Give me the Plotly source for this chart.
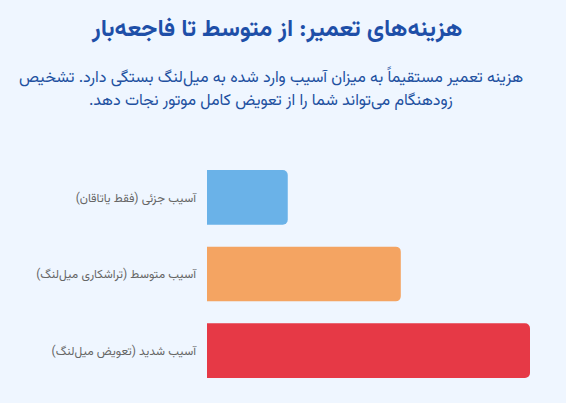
import plotly.graph_objects as go

categories = ["آسیب جزئی (فقط یاتاقان)", "آسیب متوسط (تراشکاری میل‌لنگ)", "آسیب شدید (تعویض میل‌لنگ)"]
values = [25, 60, 100]
colors = ["#6AB2E8", "#F4A462", "#E63946"]

RLM = "\u200f"
title_text = "هزینه‌های تعمیر: از متوسط تا فاجعه‌بار"
subtitle_lines = [
    "هزینه تعمیر مستقیماً به میزان آسیب وارد شده به میل‌لنگ بستگی دارد. تشخیص",
    "زودهنگام می‌تواند شما را از تعویض کامل موتور نجات دهد.",
]

FONT = "Vazirmatn, 'DejaVu Sans', 'Noto Sans', sans-serif"

fig = go.Figure(go.Bar(
    x=values, y=[RLM + c + RLM for c in categories], orientation="h",
    marker=dict(color=colors, line=dict(width=0), cornerradius=5),
    hoverinfo="skip",
))

L, R, T, B = 207, 36, 159, 14
W, H = 566, 403
pw = W - L - R
ph = H - T - B

def px_to_paper_x(px):
    return (px - L) / pw

def px_to_paper_y(py):
    return 1 + (T - py) / ph

annotations = [
    dict(text="<b>" + RLM + title_text + RLM + "</b>", xref="paper", yref="paper",
         x=px_to_paper_x(276), y=px_to_paper_y(30), xanchor="center", yanchor="middle",
         showarrow=False, font=dict(size=24, color="#1E4FA8", family=FONT)),
]
for line, py in zip(subtitle_lines, [78, 101]):
    annotations.append(dict(
        text=RLM + line + RLM, xref="paper", yref="paper",
        x=px_to_paper_x(271), y=px_to_paper_y(py), xanchor="center", yanchor="middle",
        showarrow=False, font=dict(size=16, color="#2150A0", family=FONT)))

fig.update_layout(
    width=W, height=H,
    margin=dict(l=L, r=R, t=T, b=B),
    paper_bgcolor="#EFF6FF", plot_bgcolor="#EFF6FF",
    bargap=0.286,
    showlegend=False,
    font=dict(family=FONT),
    xaxis=dict(range=[0, 100], visible=False, fixedrange=True),
    yaxis=dict(autorange="reversed", showgrid=False, zeroline=False, showline=False,
               ticks="", ticklabelstandoff=10, fixedrange=True,
               tickfont=dict(size=12, color="#666666", family=FONT)),
    annotations=annotations,
)

fig.write_html("out.html", config={"displayModeBar": False},
               post_script="document.body.style.margin='0';document.body.style.background='#EFF6FF';")
